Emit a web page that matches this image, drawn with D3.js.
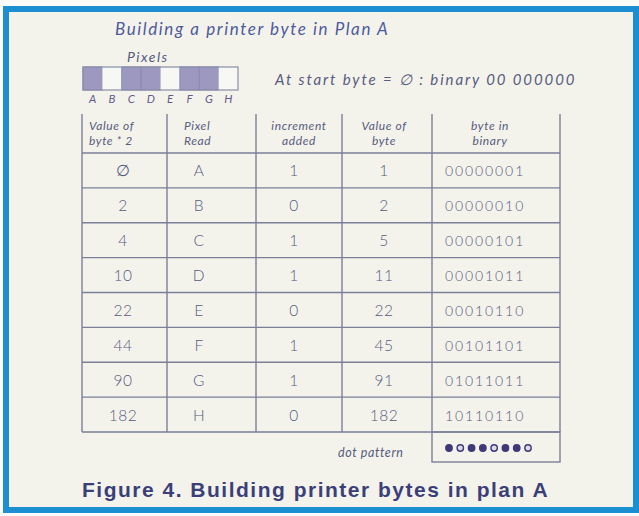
<!DOCTYPE html>
<html><head><meta charset="utf-8">
<script src="https://cdn.jsdelivr.net/npm/d3@7"></script>
<style>body{margin:0;background:#fff}svg{display:block}</style>
</head><body>
<script>
const pixels = ["A","B","C","D","E","F","G","H"];
const pixelOn = [1,0,1,1,0,1,1,0];
const headers = [["Value of","byte * 2"],["Pixel","Read"],["increment","added"],["Value of","byte"],["byte in","binary"]];
const doubled = ["∅","2","4","10","22","44","90","182"];
const pixelRead = ["A","B","C","D","E","F","G","H"];
const increment = ["1","0","1","1","0","1","1","0"];
const byteValue = ["1","2","5","11","22","45","91","182"];
const binary = ["00000001","00000010","00000101","00001011","00010110","00101101","01011011","10110110"];
const dotPattern = [1,0,1,1,0,1,1,0];

const W = 639, H = 516;
const ink = "#575b7e", hand = "Lato, 'Open Sans', sans-serif";
const svg = d3.select("body").append("svg").attr("width", W).attr("height", H);
svg.append("rect").attr("width", W).attr("height", H).attr("fill", "#fbfbf8");
svg.append("rect").attr("x", 6).attr("y", 9).attr("width", 630).attr("height", 501)
  .attr("fill", "#f3f3ec").attr("stroke", "#1b8fd2").attr("stroke-width", 6);

function hw(sel, size, spacing, italic = true) {
  return sel.attr("font-family", hand).attr("font-style", italic ? "italic" : "normal")
    .attr("font-weight", 400).attr("font-size", size).attr("letter-spacing", spacing);
}

// title
hw(svg.append("text").attr("x", 115).attr("y", 35).text("Building a printer byte in Plan A"), 17, 1.6)
  .attr("fill", "#4f5a9c");
hw(svg.append("text").attr("x", 127).attr("y", 62).text("Pixels"), 14, 1.5).attr("fill", ink);

// pixel strip
const px = d3.scaleBand().domain(pixels).range([83, 238]);
const strip = svg.append("g");
strip.selectAll("rect").data(pixels).join("rect")
  .attr("x", d => px(d)).attr("y", 67).attr("width", px.bandwidth()).attr("height", 23)
  .attr("fill", (d, i) => pixelOn[i] ? "#9d98bf" : "#f7f7f3")
  .attr("stroke", (d, i) => pixelOn[i] ? "#8c88b3" : "none").attr("stroke-width", 1);
strip.append("rect").attr("x", 83).attr("y", 67).attr("width", 155).attr("height", 23)
  .attr("fill", "none").attr("stroke", "#8a8ea8").attr("stroke-width", 1.2);
hw(strip.selectAll("text").data(pixels).join("text")
  .attr("x", d => px(d) + px.bandwidth() / 2).attr("y", 103).attr("text-anchor", "middle")
  .text(d => d), 11.5, 0).attr("fill", "#635a8c");

hw(svg.append("text").attr("x", 275).attr("y", 85)
  .text("At start   byte = ∅  :  binary 00 000000"), 15, 1.9).attr("fill", ink);

// table
const colEdges = [82, 167, 256, 342, 432, 560];
const y = d3.scaleBand().domain(d3.range(8)).range([153, 432]);
const lineC = "#7b7f98";
const tbl = svg.append("g").attr("stroke", lineC).attr("stroke-width", 1.4);
colEdges.forEach(x => tbl.append("line").attr("x1", x).attr("x2", x).attr("y1", 114).attr("y2", 432));
[153, ...d3.range(1, 8).map(i => y(i)), 432].forEach(yy =>
  tbl.append("line").attr("x1", 82).attr("x2", 560).attr("y1", yy).attr("y2", yy));
tbl.append("rect").attr("x", 432).attr("y", 432).attr("width", 128).attr("height", 30).attr("fill", "none");

const hdrX = [89, 184, 299, 384, 490];
const hdrAnchor = ["start", "start", "middle", "middle", "middle"];
headers.forEach((h, i) => {
  h.forEach((t, j) => hw(svg.append("text").attr("x", hdrX[i]).attr("y", 130 + j * 15)
    .attr("text-anchor", hdrAnchor[i]).text(t), 12, 0.6).attr("fill", ink));
});

const cols = [doubled, pixelRead, increment, byteValue, binary];
const cellX = [123, 199, 294, 384, 445];
const cellAnchor = ["middle", "middle", "middle", "middle", "start"];
cols.forEach((col, c) => {
  hw(svg.append("g").selectAll("text").data(col).join("text")
    .attr("x", cellX[c]).attr("y", (d, i) => y(i) + y.bandwidth() / 2 + 6)
    .attr("text-anchor", cellAnchor[c]).text(d => d), c === 4 ? 14 : 15.5, c === 4 ? 1.9 : 0.5, false)
    .attr("font-weight", 300).attr("fill", ink);
});

hw(svg.append("text").attr("x", 338).attr("y", 457).text("dot pattern"), 12.5, 0.6).attr("fill", ink);
const dx = d3.scalePoint().domain(d3.range(8)).range([449, 528]);
svg.append("g").selectAll("circle").data(dotPattern).join("circle")
  .attr("cx", (d, i) => dx(i)).attr("cy", 448).attr("r", 3.2)
  .attr("fill", d => d ? "#3e3a7a" : "#dcdce6").attr("stroke", "#3e3a7a").attr("stroke-width", 1.4);

svg.append("text").attr("x", 82).attr("y", 497).text("Figure 4. Building printer bytes in plan A")
  .attr("font-family", "'Liberation Sans', Arial, sans-serif").attr("font-weight", "bold")
  .attr("font-size", 21).attr("letter-spacing", 1.5).attr("fill", "#3b3f78");
</script>
</body></html>
